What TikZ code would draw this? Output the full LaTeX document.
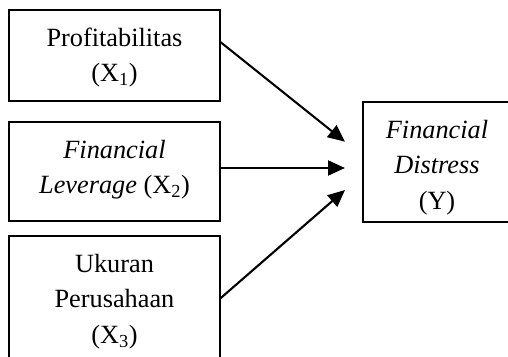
\documentclass[tikz,border=0pt]{standalone}
\usepackage{fontspec}
\setmainfont{Liberation Serif}
\usetikzlibrary{arrows.meta}
\newcommand{\bxtext}[3]{\parbox[c][#2][t]{#1}{\centering\vspace*{11.5pt}\strut #3}}
\tikzset{
  varbox/.style={draw, line width=2pt, inner sep=0pt, outer sep=0pt,
    font=\fontsize{26.3}{35.5}\selectfont},
  link/.style={line width=2.1pt, -{Triangle[length=17pt,width=15pt]}}
}
\begin{document}
\begin{tikzpicture}[x=1pt,y=-1pt]
\useasboundingbox (0,0) rectangle (508,356);
\clip (0,0) rectangle (508,356);
\node[varbox] (b1) at (114.5,55.5) {\bxtext{211pt}{91pt}{Profitabilitas\\(X\textsubscript{1})}};
\node[varbox] (b2) at (114.5,171.5) {\bxtext{211pt}{99pt}{\textit{Financial}\\\textit{Leverage} (X\textsubscript{2})}};
\node[varbox] (b3) at (114.5,306) {\bxtext{211pt}{140pt}{Ukuran\\Perusahaan\\(X\textsubscript{3})}};
\node[varbox] (y) at (437,161.7) {\bxtext{148pt}{120pt}{\textit{Financial}\\\textit{Distress}\\(Y)}};
\draw[link] ([yshift=13.8pt]b1.east) -- ([xshift=-18pt,yshift=20pt]y.west);
\draw[link] ([yshift=3.5pt]b2.east) -- ([xshift=-18pt,yshift=-6.3pt]y.west);
\draw[link] ([yshift=7.3pt]b3.east) -- ([xshift=-18pt,yshift=-28.3pt]y.west);
\end{tikzpicture}
\end{document}
